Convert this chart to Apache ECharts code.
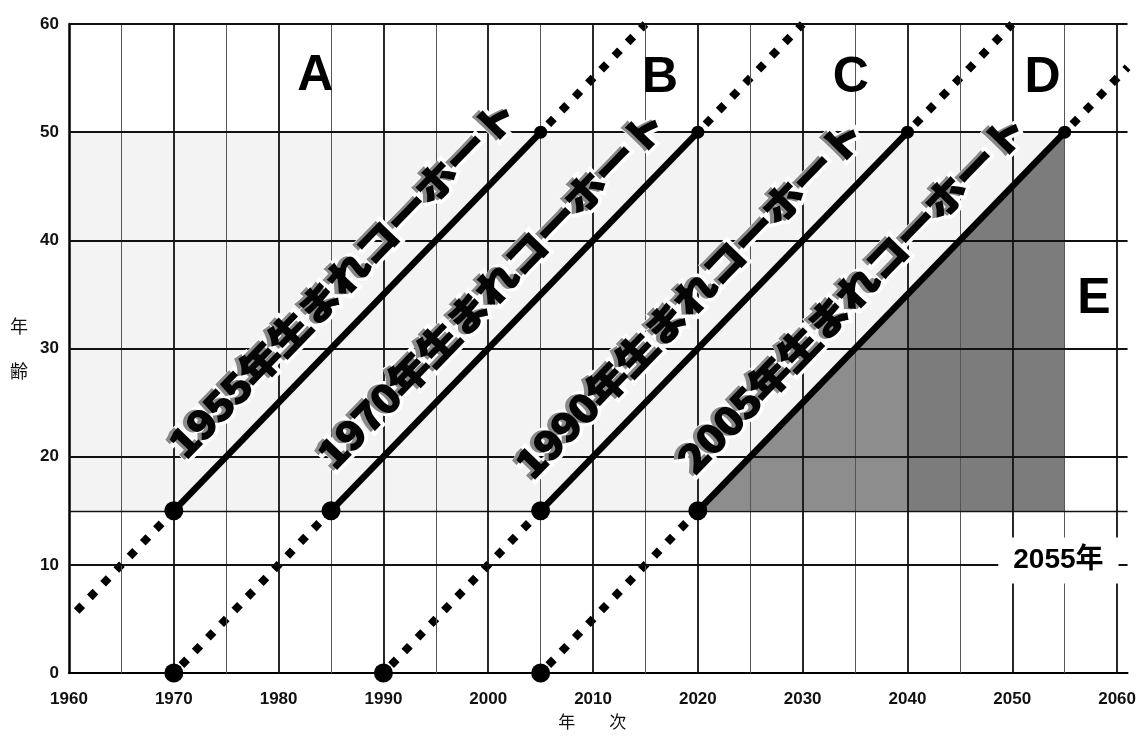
<!DOCTYPE html>
<html><head><meta charset="utf-8">
<script src="https://cdn.jsdelivr.net/npm/echarts/dist/echarts.min.js"></script>
<style>html,body{margin:0;padding:0;background:#fff}#c{width:1139px;height:743px}</style>
</head><body><div id="c"></div>
<script>
// ---- data ----
const cohortLabels = ['1955年生まれコーホート', '1970年生まれコーホート', '1990年生まれコーホート', '2005年生まれコーホート'];
// projected (dotted) parts of each cohort line: before age 15 and after age 50
const dottedLow = [
  [[1960, 5], [1970, 15]],
  [[1970, 0], [1985, 15]],
  [[1990, 0], [2005, 15]],
  [[2005, 0], [2020, 15]]
];
const dottedHigh = [
  [[2005, 50], [2015, 60]],
  [[2020, 50], [2030, 60]],
  [[2040, 50], [2050, 60]],
  [[2055, 50], [2061, 56]]
];
// working-age (solid) parts, age 15 to 50
const solidLines = [
  [[1970, 15], [2005, 50]],
  [[1985, 15], [2020, 50]],
  [[2005, 15], [2040, 50]],
  [[2020, 15], [2055, 50]]
];
const cohortLabelPos = [[1986.1, 36.5], [2000.3, 35.5], [2019.2, 34.6], [2034.7, 35.1]];
const largeDots = [[1970, 15], [1985, 15], [2005, 15], [2020, 15], [1970, 0], [1990, 0], [2005, 0]];
const smallDots = [[2005, 50], [2020, 50], [2040, 50], [2055, 50]];
const zoneLetters = ['A', 'B', 'C', 'D', 'E'];
const zoneLetterPos = [[1983.5, 55.2], [2016.4, 55.0], [2034.6, 55.0], [2052.9, 55.0], [2057.8, 34.6]];
const workBand = [[1960, 50], [2055, 15]];
const shadeTriangle = [[2020, 15], [2055, 50], [2055, 15]];
const darkBlock = [[2040, 15], [2040, 35], [2055, 50], [2055, 15]];
const yearTag = ['2055年'];
const yearTagPos = [[2054.4, 10.4]];
const xMajor = [1970, 1980, 1990, 2000, 2010, 2020, 2030, 2040, 2050, 2060];
const xMinor = [1965, 1975, 1985, 1995, 2005, 2015, 2025, 2035, 2045, 2055];
const yGrid = [10, 15, 20, 30, 40, 50, 60];

// ---- chart ----
const chart = echarts.init(document.getElementById('c'));
const FONT = '"Liberation Sans", Arial, sans-serif';
const CJK = '"Noto Sans CJK JP", sans-serif';

const series = [];

// light band
series.push({
  type: 'custom', z: 0, silent: true, animation: false, data: [0],
  renderItem: (p, api) => {
    const a = api.coord(workBand[0]), b = api.coord(workBand[1]);
    return { type: 'rect', shape: { x: a[0], y: a[1], width: b[0] - a[0], height: b[1] - a[1] }, style: { fill: '#f3f3f3' } };
  }
});

// grid lines
series.push({
  type: 'line', z: 1, data: [], silent: true, animation: false,
  markLine: {
    silent: true, symbol: 'none', animation: false, label: { show: false },
    data: [
      ...xMinor.map(v => ({ xAxis: v, lineStyle: { color: '#555', width: 1, type: 'solid' } })),
      ...xMajor.map(v => ({ xAxis: v, lineStyle: { color: '#111', width: 1.8, type: 'solid' } })),
      ...yGrid.map(v => ({ yAxis: v, lineStyle: { color: '#111', width: v === 15 ? 1.4 : 2, type: 'solid' } }))
    ]
  }
});

// shaded triangle
series.push({
  type: 'custom', z: 2, silent: true, animation: false, data: [0],
  renderItem: (p, api) => ({ type: 'polygon', shape: { points: shadeTriangle.map(d => api.coord(d)) }, style: { fill: 'rgba(0,0,0,0.42)' } })
});
series.push({
  type: 'custom', z: 3, silent: true, animation: false, data: [0],
  renderItem: (p, api) => ({ type: 'polygon', shape: { points: darkBlock.map(d => api.coord(d)) }, style: { fill: '#7c7c7c' } })
});

// cohort lines
dottedLow.concat(dottedHigh).forEach(seg => series.push({
  type: 'line', z: 4, data: seg, symbol: 'none', silent: true, animation: false,
  lineStyle: { color: '#000', width: 8, type: [8, 11], dashOffset: -11, cap: 'butt', opacity: 1 }
}));
solidLines.forEach(seg => series.push({
  type: 'line', z: 5, data: seg, symbol: 'none', silent: true, animation: false,
  lineStyle: { color: '#000', width: 6.5, type: 'solid', opacity: 1 }
}));
series.push({ type: 'scatter', z: 6, data: largeDots, symbolSize: 19, itemStyle: { color: '#000', opacity: 1 }, silent: true, animation: false, clip: false });
series.push({ type: 'scatter', z: 6, data: smallDots, symbolSize: 13, itemStyle: { color: '#000', opacity: 1 }, silent: true, animation: false, clip: false });

// cohort labels
series.push({
  type: 'custom', z: 7, silent: true, animation: false, data: cohortLabelPos,
  renderItem: (params, api) => {
    const i = params.dataIndex;
    const p = api.coord([api.value(0), api.value(1)]);
    const a = api.coord(solidLines[i][0]), b = api.coord(solidLines[i][1]);
    const ang = Math.atan2(a[1] - b[1], b[0] - a[0]);
    const base = { text: cohortLabels[i], fontSize: 37, fontWeight: 'bold', fontFamily: CJK, align: 'center', verticalAlign: 'middle' };
    return {
      type: 'group', x: p[0], y: p[1], rotation: ang, scaleX: 1.14,
      children: [
        { type: 'text', style: Object.assign({}, base, { fill: '#fff', stroke: '#fff', lineWidth: 9 }) },
        { type: 'text', x: -2.5, y: -2.5, style: Object.assign({}, base, { fill: '#8a8a8a', stroke: '#8a8a8a', lineWidth: 3 }) },
        { type: 'text', style: Object.assign({}, base, { fill: '#050505', stroke: '#050505', lineWidth: 2.2 }) }
      ]
    };
  }
});

// zone letters
series.push({
  type: 'custom', z: 7, silent: true, animation: false, data: zoneLetterPos,
  renderItem: (params, api) => {
    const p = api.coord([api.value(0), api.value(1)]);
    return {
      type: 'text', x: p[0], y: p[1],
      style: { text: zoneLetters[params.dataIndex], fill: '#000', fontSize: 50, fontWeight: 'bold', fontFamily: FONT, align: 'center', verticalAlign: 'middle' }
    };
  }
});

// 2055年 tag
series.push({
  type: 'custom', z: 8, silent: true, animation: false, data: yearTagPos,
  renderItem: (params, api) => {
    const p = api.coord([api.value(0), api.value(1)]);
    return {
      type: 'text', x: p[0], y: p[1],
      style: { text: yearTag[params.dataIndex], fill: '#000', fontSize: 28, fontWeight: 'bold', fontFamily: FONT + ', ' + CJK,
        align: 'center', verticalAlign: 'middle', backgroundColor: '#fff', padding: [9, 15, 9, 15] }
    };
  }
});

chart.setOption({
  animation: false,
  backgroundColor: '#fff',
  grid: { left: 69, right: 9, top: 24, bottom: 70 },
  xAxis: {
    type: 'value', min: 1960, max: 2061, interval: 10,
    name: '年　　次', nameLocation: 'middle', nameGap: 40,
    nameTextStyle: { fontSize: 17, color: '#111', fontFamily: CJK, padding: [0, 12, 0, 0] },
    axisLine: { lineStyle: { color: '#000', width: 2 } },
    axisTick: { show: false },
    splitLine: { show: false },
    axisLabel: { margin: 18, fontSize: 17, fontWeight: 'bold', color: '#111', fontFamily: FONT, showMaxLabel: false, formatter: v => String(v) }
  },
  yAxis: {
    type: 'value', min: 0, max: 60, interval: 10,
    name: '年\n\n齢', nameLocation: 'middle', nameGap: 41, nameRotate: 0,
    nameTextStyle: { fontSize: 18, lineHeight: 22.5, color: '#111', fontFamily: CJK, padding: [0, 0, 55, 0] },
    axisLine: { show: true, lineStyle: { color: '#000', width: 2.5 } },
    axisTick: { show: false },
    splitLine: { show: false },
    axisLabel: { margin: 10, fontSize: 17, fontWeight: 'bold', color: '#111', fontFamily: FONT, formatter: v => String(v) }
  },
  series
});
</script>
</body></html>
